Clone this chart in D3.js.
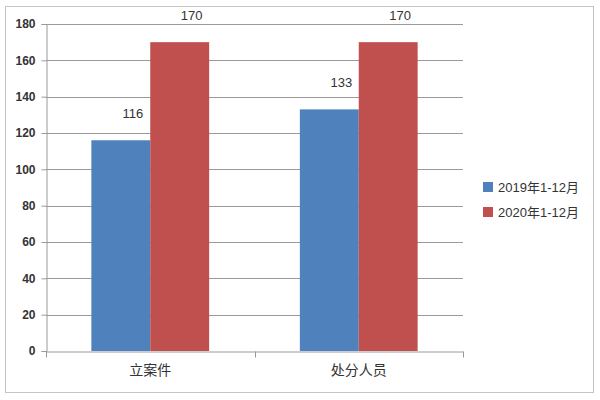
<!DOCTYPE html>
<html><head><meta charset="utf-8">
<script src="https://cdn.jsdelivr.net/npm/d3@7"></script>
<style>body{margin:0;background:#fff}</style>
</head><body>
<svg id="c" width="600" height="400"></svg>
<script>
const categories = ["立案件", "处分人员"];
const seriesNames = ["2019年1-12月", "2020年1-12月"];
const values2019 = [116, 133];
const values2020 = [170, 170];
const yTicks = [0, 20, 40, 60, 80, 100, 120, 140, 160, 180];
const colors = ["#4F81BD", "#C0504D"];

(function () {
const svg = d3.select("#c");
const font = "'Liberation Sans', Arial, 'Noto Sans CJK SC', sans-serif";
svg.append("rect").attr("x", 5.5).attr("y", 6.5).attr("width", 588).attr("height", 386)
  .attr("fill", "#fff").attr("stroke", "#c4c4c4");

const mLeft = 46, mRight = 463, mTop = 24, mBottom = 351;
const y = d3.scaleLinear().domain([0, 180]).range([mBottom, mTop]);
const x0 = d3.scaleBand().domain(categories).range([mLeft, mRight]).paddingInner(0).paddingOuter(0);
const x1 = d3.scaleBand().domain(seriesNames).range([0, x0.bandwidth()]).paddingInner(0).paddingOuter(0.77);

// gridlines
svg.append("g").selectAll("line").data(yTicks.filter(d => d > 0)).join("line")
  .attr("x1", mLeft).attr("x2", mRight).attr("y1", d => Math.round(y(d)) + 0.5).attr("y2", d => Math.round(y(d)) + 0.5)
  .attr("stroke", "#9a9a9a").attr("stroke-width", 1);

// y axis
const ya = svg.append("g").attr("transform", `translate(${mLeft + 0.5},0)`)
  .call(d3.axisLeft(y).tickValues(yTicks).tickSize(5).tickPadding(6));
ya.select(".domain").attr("stroke", "#9a9a9a");
ya.selectAll(".tick line").attr("stroke", "#9a9a9a");
ya.selectAll(".tick text").attr("font-family", font).attr("font-size", 12).attr("fill", "#333").attr("font-weight", "bold");

// x axis
const xa = svg.append("g").attr("transform", `translate(0,${mBottom + 0.5})`)
  .call(d3.axisBottom(x0).tickSize(0).tickPadding(14));
xa.select(".domain").attr("stroke", "#9a9a9a");
xa.selectAll(".tick text").attr("font-family", font).attr("font-size", 14).attr("fill", "#333");
xa.selectAll(".sep").data([mLeft, mLeft + x0.bandwidth(), mRight]).join("line").attr("class", "sep")
  .attr("x1", d => Math.round(d) + 0.5).attr("x2", d => Math.round(d) + 0.5).attr("y1", 0).attr("y2", 6)
  .attr("stroke", "#9a9a9a");

// bars
const rows = categories.map((c, i) => ({cat: c, vals: [values2019[i], values2020[i]]}));
const groups = svg.append("g").selectAll("g").data(rows).join("g")
  .attr("transform", d => `translate(${x0(d.cat)},0)`);
groups.selectAll("rect").data(d => d.vals.map((v, j) => ({v, s: seriesNames[j], j}))).join("rect")
  .attr("x", d => x1(d.s)).attr("width", x1.bandwidth())
  .attr("y", d => y(d.v)).attr("height", d => y(0) - y(d.v))
  .attr("fill", d => colors[d.j]);
groups.selectAll("text").data(d => d.vals.map((v, j) => ({v, s: seriesNames[j], j}))).join("text")
  .attr("x", d => x1(d.s) + x1.bandwidth() / 2 + 12).attr("y", d => y(d.v) - 22)
  .attr("text-anchor", "middle").attr("font-family", font).attr("font-size", 13).attr("fill", "#333")
  .text(d => d.v);

// legend
const lg = svg.append("g").selectAll("g").data(seriesNames).join("g")
  .attr("transform", (d, i) => `translate(483,${187 + i * 25})`);
lg.append("rect").attr("x", 0).attr("y", -5).attr("width", 10).attr("height", 10).attr("fill", (d, i) => colors[i]);
lg.append("text").attr("x", 15).attr("y", 5).attr("font-family", font).attr("font-size", 13).attr("fill", "#333").text(d => d);
})();
</script>
</body></html>
